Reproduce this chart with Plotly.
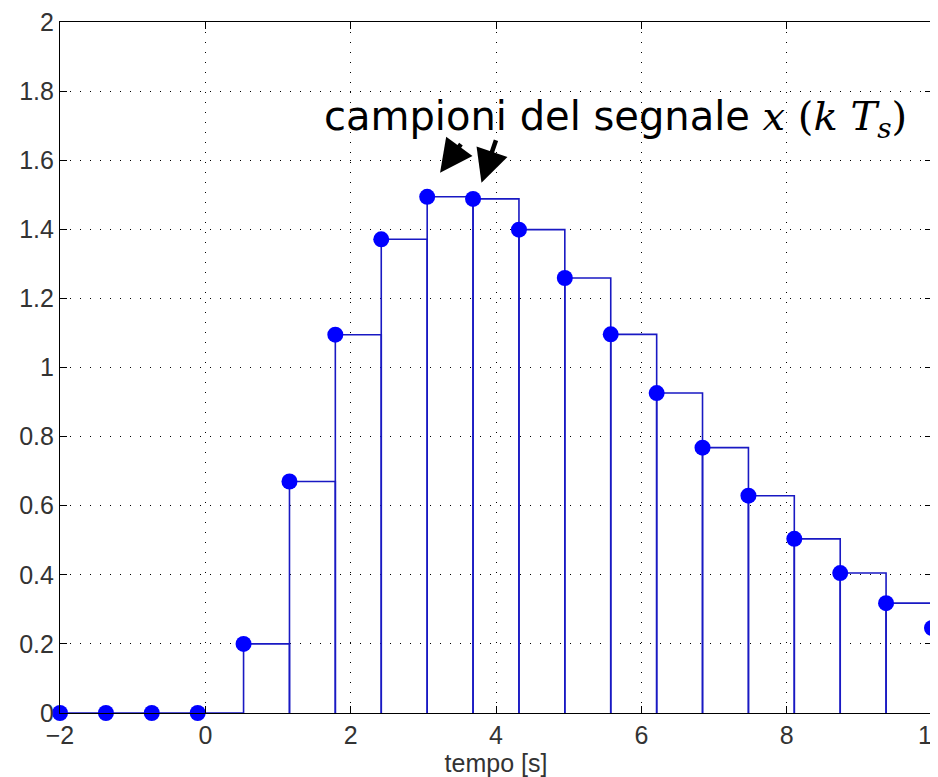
import plotly.graph_objects as go

# sample instants [s] and sampled values x(k Ts)
t_samples = [-2.0, -1.368, -0.737, -0.105, 0.526, 1.158, 1.789, 2.421, 3.053, 3.684,
             4.316, 4.947, 5.579, 6.211, 6.842, 7.474, 8.105, 8.737, 9.368, 10.0]
x_samples = [0.0, 0.0, 0.0, 0.0, 0.20, 0.67, 1.095, 1.371, 1.494, 1.488,
             1.399, 1.259, 1.096, 0.926, 0.768, 0.629, 0.504, 0.405, 0.318, 0.246]

x_ticks = [-2, 0, 2, 4, 6, 8, 10]
y_ticks = [0, 0.2, 0.4, 0.6, 0.8, 1, 1.2, 1.4, 1.6, 1.8, 2]

# zero-order hold outline (stairs with stems)
sx, sy = [], []
n = len(t_samples)
for k in range(n):
    t0 = t_samples[k]
    t1 = t_samples[k + 1] if k + 1 < n else t_samples[k] + (t_samples[k] - t_samples[k - 1])
    v = x_samples[k]
    sx += [t0, t0, t1, t1, None]
    sy += [0, v, v, 0, None]

fig = go.Figure()
fig.add_trace(go.Scatter(x=sx, y=sy, mode="lines",
                         line=dict(color="rgb(25,25,195)", width=1.6),
                         hoverinfo="skip", showlegend=False))
fig.add_trace(go.Scatter(x=t_samples, y=x_samples, mode="markers",
                         marker=dict(color="rgb(0,0,255)", size=16),
                         cliponaxis=False, showlegend=False))

tick_font = dict(family="Liberation Sans, Arial", size=25, color="#333")
axis_common = dict(showline=True, linecolor="black", linewidth=1.2, mirror="ticks",
                   ticks="inside", ticklen=7, tickcolor="black",
                   showgrid=True, gridcolor="black", gridwidth=1.2, griddash="1.2px,8.8px",
                   zeroline=False, automargin=False, ticklabeloverflow="allow",
                   tickfont=tick_font)

fig.update_xaxes(range=[-2, 10], tickvals=x_ticks,
                 title=dict(text="tempo [s]", font=dict(family="Liberation Sans, Arial", size=25, color="#333"),
                            standoff=6),
                 **axis_common)
fig.update_yaxes(range=[0, 2], tickvals=y_ticks, **axis_common)

fig.add_annotation(x=5.64, y=1.72, xref="x", yref="y", showarrow=False,
                   text="campioni del segnale <span style='font-family:DejaVu Serif'><i>x</i> (<i>k T<sub>s</sub></i>)</span>",
                   font=dict(family="DejaVu Sans", size=40, color="black"),
                   xanchor="center", yanchor="middle")
fig.add_annotation(x=3.23, y=1.564, xref="x", yref="y", ax=22, ay=-30, text="",
                   showarrow=True, arrowhead=2, arrowsize=1.45, arrowwidth=4.5, arrowcolor="black")
fig.add_annotation(x=3.80, y=1.535, xref="x", yref="y", ax=15, ay=-44, text="",
                   showarrow=True, arrowhead=2, arrowsize=1.45, arrowwidth=4.5, arrowcolor="black")

# the page body adds an 8px margin, so the figure is 8px smaller and margins shifted
fig.update_layout(width=930, height=769, margin=dict(l=52, r=6, t=14, b=64),
                  plot_bgcolor="white", paper_bgcolor="white")

fig.write_html("out.html")
